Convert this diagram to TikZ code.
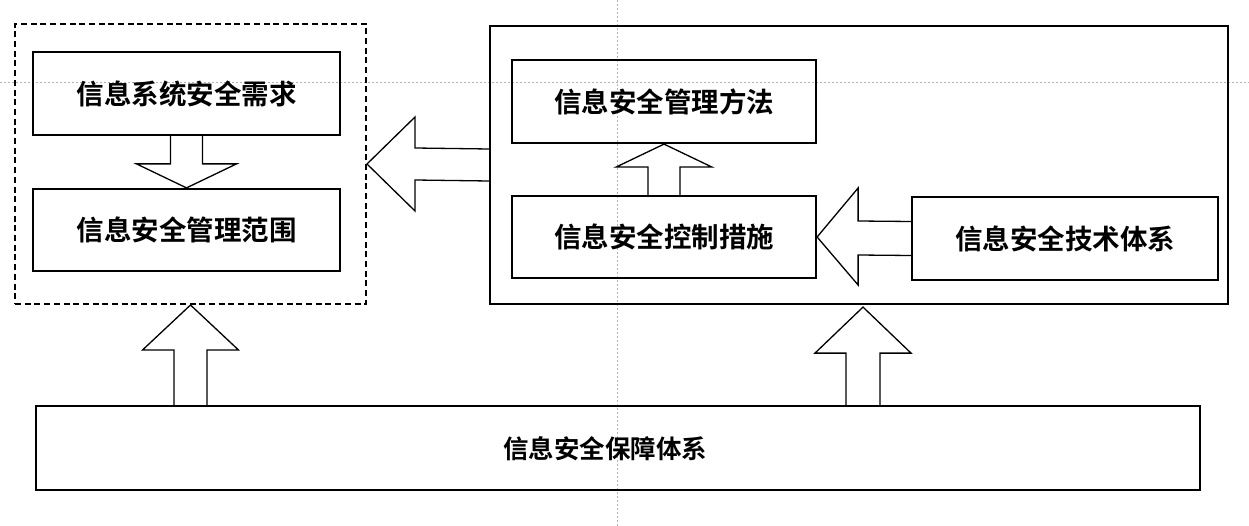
\documentclass[tikz,border=0pt]{standalone}
\usepackage{fontspec}
\newfontfamily\cjk{Noto Sans CJK SC}[BoldFont={Noto Sans CJK SC Bold}]
\usetikzlibrary{calc}
\begin{document}
\begin{tikzpicture}[x=1pt,y=-1pt,
  box/.style={draw,line width=2.2pt,inner sep=0pt,font=\cjk\bfseries\fontsize{27.5}{30}\selectfont},
  blockarrow/.style={draw,line width=1.3pt,fill=white,line join=miter},
  guide/.style={draw=gray!60,line width=0.5pt,dash pattern=on 2pt off 2pt}]
\useasboundingbox (0,0) rectangle (1249,526);
% faint guide lines of the scan
\draw[guide] (617,0) -- (617,526);
\draw[guide] (0,82) -- (1249,82);
% left group
\node[draw,line width=2pt,dash pattern=on 6pt off 3.7pt,minimum width=351pt,minimum height=280pt,inner sep=0pt] (dash) at (190.5,164) {};
\node[box,minimum width=307pt,minimum height=83pt] (req) at (186.5,93.5) {信息系统安全需求};
\node[box,minimum width=307pt,minimum height=82pt] (scope) at (186.5,230) {信息安全管理范围};
% right group
\node[draw,line width=2.2pt,minimum width=738pt,minimum height=278pt,inner sep=0pt] (rbox) at (859,165) {};
\node[box,minimum width=304pt,minimum height=83pt] (meth) at (664,101.5) {信息安全管理方法};
\node[box,minimum width=304pt,minimum height=82pt] (ctrl) at (664,237) {信息安全控制措施};
\node[box,minimum width=306pt,minimum height=83pt] (tech) at (1065,238.5) {信息安全技术体系};
% bottom
\node[box,minimum width=1164pt,minimum height=84pt] (base) at (618,448) {};
\node[font=\cjk\bfseries\fontsize{25.5}{28}\selectfont,inner sep=0pt] (basetext) at (605,449) {信息安全保障体系};
% block arrows
% req -> scope (down)
\draw[blockarrow] ($(req.south)+(-16,0)$) -- ($(scope.north)+(-16,-24)$) -- ($(scope.north)+(-50,-24)$) -- (scope.north)
  -- ($(scope.north)+(50,-24)$) -- ($(scope.north)+(16,-24)$) -- ($(req.south)+(16,0)$);
% rbox -> dash (left)
\draw[blockarrow] ($(rbox.west)+(0,-16)$) -- ($(dash.east)+(48,-16)$) -- ($(dash.east)+(48,-47)$) -- (dash.east)
  -- ($(dash.east)+(48,47)$) -- ($(dash.east)+(48,16)$) -- ($(rbox.west)+(0,16)$);
% ctrl -> meth (up)
\draw[blockarrow] ($(ctrl.north)+(-16,0)$) -- ($(meth.south)+(-16,23)$) -- ($(meth.south)+(-48,23)$) -- (meth.south)
  -- ($(meth.south)+(48,23)$) -- ($(meth.south)+(16,23)$) -- ($(ctrl.north)+(16,0)$);
% tech -> ctrl (left)
\draw[blockarrow] ($(tech.west)+(0,-17)$) -- ($(ctrl.east)+(41,-16)$) -- ($(ctrl.east)+(41,-49)$) -- (ctrl.east)
  -- ($(ctrl.east)+(41,48)$) -- ($(ctrl.east)+(41,18)$) -- ($(tech.west)+(0,17)$);
% base -> dash (up)
\coordinate (t1) at (dash.south);
\coordinate (b1) at (dash.south |- base.north);
\draw[blockarrow] ($(b1)+(-16.5,0)$) -- ($(t1)+(-16.5,45)$) -- ($(t1)+(-48,45)$) -- (t1)
  -- ($(t1)+(48,45)$) -- ($(t1)+(16.5,45)$) -- ($(b1)+(16.5,0)$);
% base -> rbox (up)
\coordinate (t2) at ($(rbox.south)+(4,2)$);
\coordinate (b2) at (t2 |- base.north);
\draw[blockarrow] ($(b2)+(-17,0)$) -- ($(t2)+(-17,46)$) -- ($(t2)+(-48,46)$) -- (t2)
  -- ($(t2)+(48,46)$) -- ($(t2)+(17,46)$) -- ($(b2)+(17,0)$);
\end{tikzpicture}
\end{document}
